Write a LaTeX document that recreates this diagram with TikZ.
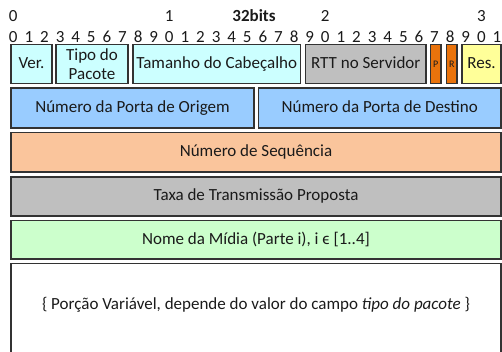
\documentclass[tikz,border=0pt]{standalone}
\usepackage{fontspec}
\setmainfont{Carlito}
\definecolor{cyanf}{HTML}{CCFFFF}
\definecolor{bluef}{HTML}{99CCFF}
\definecolor{orangef}{HTML}{FAC59C}
\definecolor{grayf}{HTML}{BFBFBF}
\definecolor{greenf}{HTML}{CCFFCC}
\definecolor{flagf}{HTML}{E9730C}
\definecolor{yellowf}{HTML}{FFFF99}
\definecolor{edge}{HTML}{333333}
\definecolor{txt}{HTML}{1A1A1A}
\begin{document}
\begin{tikzpicture}[x=1pt,y=-1pt,
  field/.style={draw=edge,line width=1.1pt,inner sep=0pt,outer sep=0pt,
    text=txt,font=\fontsize{17}{19}\selectfont,align=center,
    text height=11.5pt,text depth=3pt},
  bitnum/.style={inner sep=0pt,text=txt,font=\fontsize{17}{19}\selectfont},
  flag/.style={field,fill=flagf,font=\fontsize{10}{11}\selectfont,text height=7pt,text depth=0pt}]
\useasboundingbox (0,0) rectangle (502,351);
% top scale
\node[bitnum] (t0) at (13.3,16) {0};
\node[bitnum] (t1) at (169.3,16) {1};
\node[bitnum,font=\fontsize{17}{19}\selectfont\bfseries] (tb) at (254,16) {32bits};
\node[bitnum] (t2) at (325.3,16) {2};
\node[bitnum] (t3) at (481.3,16) {3};
\foreach \i in {0,...,31}{
  \pgfmathtruncatemacro\d{mod(\i,10)}
  \node[bitnum] (b\i) at ({13.3+15.6*\i},37) {\d};
}
% row 1
\node[field,fill=cyanf,minimum width=41pt,minimum height=39pt] (ver) at (31.5,64) {Ver.};
\node[field,fill=cyanf,minimum width=72pt,minimum height=39pt,text height=,text depth=,font=\fontsize{17}{19.5}\selectfont] (tipo) at (92,64) {Tipo do\\Pacote};
\node[field,fill=cyanf,minimum width=167.5pt,minimum height=39pt] (tam) at (216.75,64) {Tamanho do Cabeçalho};
\node[field,fill=grayf,minimum width=120.5pt,minimum height=39pt] (rtt) at (365.75,64) {RTT no Servidor};
\node[flag,minimum width=10.5pt,minimum height=39pt] (p) at (435.75,64) {P};
\node[flag,minimum width=10.5pt,minimum height=39pt] (r) at (451.75,64) {R};
\node[field,fill=yellowf,minimum width=39pt,minimum height=39pt] (res) at (481.5,64) {Res.};
% row 2
\node[field,fill=bluef,minimum width=243pt,minimum height=40pt] (orig) at (132.5,108) {Número da Porta de Origem};
\node[field,fill=bluef,minimum width=242.5pt,minimum height=40pt] (dest) at (379.75,108) {Número da Porta de Destino};
% rows 3-5
\node[field,fill=orangef,minimum width=490pt,minimum height=39.5pt] (seq) at (256,152.25) {Número de Sequência};
\node[field,fill=grayf,minimum width=490pt,minimum height=39pt] (taxa) at (256,196.5) {Taxa de Transmissão Proposta};
\node[field,fill=greenf,minimum width=490pt,minimum height=38.5pt] (nome) at (256,239.75) {Nome da Mídia (Parte i), i \char"03F5\ [1..4]};
% row 6 (open at bottom)
\draw[draw=edge,line width=1.1pt] (11,352) |- (501,263.5) -- (501,352);
\node[field,draw=none] (var) at (256,305) {\{ Porção Variável, depende do valor do campo \textit{tipo do pacote} \}};
\end{tikzpicture}
\end{document}
